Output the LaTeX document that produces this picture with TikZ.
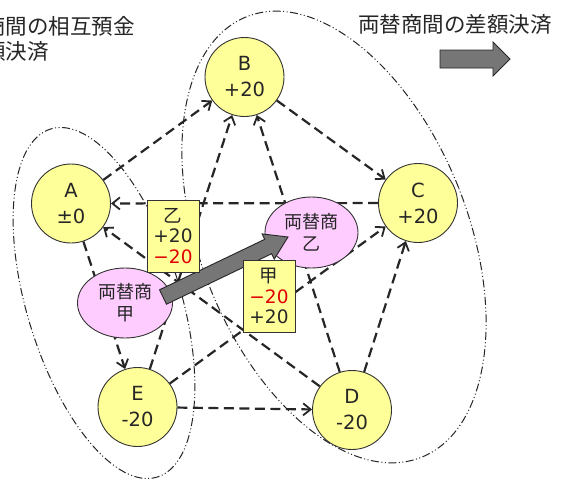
\documentclass[tikz,border=0pt]{standalone}
\usepackage{fontspec}
\setmainfont{Noto Sans CJK JP}
\newfontfamily\lat{DejaVu Sans}
\usetikzlibrary{arrows.meta,shapes.geometric,calc}
\definecolor{cyel}{HTML}{FFFF99}
\definecolor{cpink}{HTML}{FFCCFF}
\definecolor{cred}{HTML}{E00000}
\definecolor{cgray}{HTML}{767676}
\begin{document}
\begin{tikzpicture}[x=1pt,y=-1pt,
  person/.style={circle, draw=black!80, line width=0.9pt, fill=cyel, minimum size=79pt, inner sep=0pt, align=center, font=\lat\fontsize{19.5}{26}\selectfont, text=black!85},
  changer/.style={ellipse, draw=black!80, line width=0.9pt, fill=cpink, minimum width=95pt, minimum height=70pt, inner sep=0pt, align=center, font=\fontsize{18}{22}\selectfont, text=black!85},
  tally/.style={rectangle, draw=black!80, line width=0.9pt, fill=cyel, minimum width=52pt, minimum height=72pt, inner sep=0pt, align=center, font=\fontsize{18.5}{20.5}\selectfont, text=black!85},
  flow/.style={line width=2.2pt, black!85, dash pattern=on 10pt off 5.5pt, -{Straight Barb[length=7.5pt,width=12pt,line width=1.8pt]}},
  grp/.style={line width=1pt, black!85, dash pattern=on 8pt off 2.5pt on 1pt off 2.5pt on 1pt off 2.5pt},
  bigarrow/.style={draw=black!85, line width=0.9pt, fill=cgray},
  caption/.style={font=\fontsize{21.5}{25}\selectfont, text=black!85, inner sep=0pt, align=left}
]
\useasboundingbox (0,0) rectangle (570,479);
\fill[white] (0,0) rectangle (570,479);

% grouping ellipses
\draw[grp, rotate around={17:(104,303)}] (104,303) ellipse [x radius=77pt, y radius=182pt];
\draw[grp, rotate around={21.6:(334,237)}] (334,237) ellipse [x radius=134pt, y radius=237pt];

% captions
\node[caption, anchor=north west] (capL) at (-16,16) {商間の相互預金\\額決済};
\node[caption] (capR) at (455,24) {両替商間の差額決済};

% customers
\node[person] (A) at (71,203.5) {A\\±0};
\node[person] (B) at (244.5,77) {B\\+20};
\node[person] (C) at (418,203) {C\\+20};
\node[person] (D) at (352,410) {D\\-20};
\node[person] (E) at (137.5,407) {E\\-20};

% flows
\draw[flow] (A) -- (B);
\draw[flow] (B) -- (C);
\draw[flow] (C) -- (A);
\draw[flow] (D) -- (A);
\draw[flow] (A) -- (E);
\draw[flow] (E) -- (B);
\draw[flow] (D) -- (B);
\draw[flow] (E) -- (C);
\draw[flow] (D) -- (C);
\draw[flow] (E) -- (D);

% money changers
\node[changer] (Ko) at (125,303) {両替商\\甲};
\node[changer, minimum width=93pt, minimum height=71pt] (Otsu) at (311.5,232.5) {両替商\\乙};

% big arrow from 甲 to 乙
\coordinate (arrTail) at (163,297);
\coordinate (arrTip) at (288,237);
\coordinate (arrNeck) at ($(arrTip)!22pt!(arrTail)$);
\draw[bigarrow]
  ($(arrTail)!8pt!90:(arrTip)$) -- ($(arrNeck)!8pt!-90:(arrTail)$) --
  ($(arrNeck)!14pt!-90:(arrTail)$) -- (arrTip) --
  ($(arrNeck)!14pt!90:(arrTail)$) -- ($(arrNeck)!8pt!90:(arrTail)$) --
  ($(arrTail)!8pt!-90:(arrTip)$) -- cycle;

% tallies
\node[tally] (tOtsu) at (173,236) {乙\\{\lat +20}\\{\lat\color{cred}−20}};
\node[tally] (tKo) at (269,296) {甲\\{\lat\color{cred}−20}\\{\lat +20}};

% top-right arrow
\coordinate (sTail) at (440,59);
\coordinate (sTip) at (510,59);
\coordinate (sNeck) at ($(sTip)!17pt!(sTail)$);
\draw[bigarrow]
  ($(sTail)!9pt!90:(sTip)$) -- ($(sNeck)!9pt!-90:(sTail)$) --
  ($(sNeck)!17pt!-90:(sTail)$) -- (sTip) --
  ($(sNeck)!17pt!90:(sTail)$) -- ($(sNeck)!9pt!90:(sTail)$) --
  ($(sTail)!9pt!-90:(sTip)$) -- cycle;
\end{tikzpicture}
\end{document}
